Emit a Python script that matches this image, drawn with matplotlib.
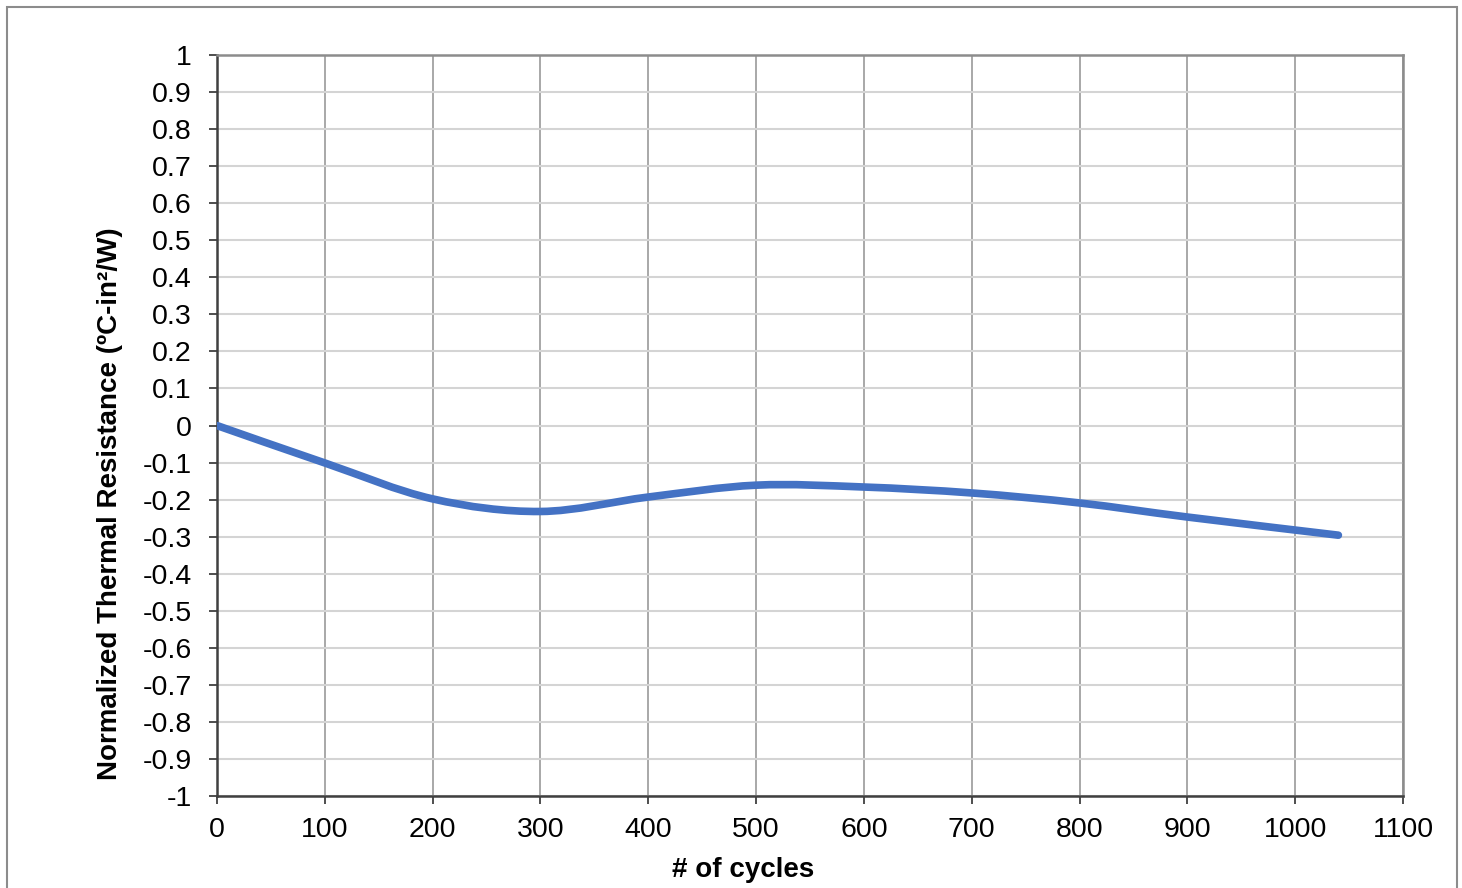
import numpy as np
import matplotlib.pyplot as plt
from matplotlib.path import Path
from matplotlib.patches import PathPatch, Rectangle

plt.rcParams['font.family'] = ['Liberation Sans', 'DejaVu Sans']

# datos
ciclos = [0, 100, 200, 300, 400, 500, 600, 700, 800, 900, 1040]
resistencia = [0.0, -0.101, -0.198, -0.232, -0.193, -0.161, -0.166, -0.182, -0.209, -0.247, -0.296]

yticks = np.round(np.arange(-1, 1.01, 0.1), 1) + 0.0
xticks = np.arange(0, 1101, 100)

def suavizado(x, y):
    # curva bezier tipo Excel (suavizado de linea)
    x = np.asarray(x, float)
    y = np.asarray(y, float)
    verts = [(x[0], y[0])]
    codes = [Path.MOVETO]
    n = len(x)
    for i in range(n - 1):
        i0 = max(i - 1, 0)
        i3 = min(i + 2, n - 1)
        c1 = (x[i] + (x[i + 1] - x[i0]) / 6, y[i] + (y[i + 1] - y[i0]) / 6)
        c2 = (x[i + 1] - (x[i3] - x[i]) / 6, y[i + 1] - (y[i3] - y[i]) / 6)
        verts += [c1, c2, (x[i + 1], y[i + 1])]
        codes += [Path.CURVE4] * 3
    return Path(verts, codes)

fig = plt.figure(figsize=(14.62, 8.88), dpi=100)
ax = fig.add_axes([0.1484, 0.1036, 0.8113, 0.8344])

ax.add_patch(PathPatch(suavizado(ciclos, resistencia), facecolor='none',
                       edgecolor='#4472C4', lw=5.5, capstyle='round', zorder=3))

ax.set_xlim(0, 1100)
ax.set_ylim(-1, 1)
ax.set_xticks(xticks)
ax.set_yticks(yticks)
ax.set_yticklabels(['%g' % (v if abs(v) > 1e-9 else 0) for v in yticks])

ax.xaxis.grid(True, color='#9a9a9a', lw=1.2)
ax.yaxis.grid(True, color='#d4d4d4', lw=1.5)
ax.set_axisbelow(True)

for s in ['left', 'bottom']:
    ax.spines[s].set_color('#404040')
    ax.spines[s].set_linewidth(1.8)
for s in ['top', 'right']:
    ax.spines[s].set_color('#8c8c8c')
    ax.spines[s].set_linewidth(1.8)

ax.tick_params(axis='both', direction='out', length=6, width=1.3, color='#404040',
               labelsize=20.5, labelcolor='black')
ax.tick_params(axis='x', pad=9)
ax.tick_params(axis='y', pad=12)

ax.set_xlabel('# of cycles', fontsize=20, fontweight='bold', va='center')
ax.set_ylabel('Normalized Thermal Resistance (ºC-in²/W)', fontsize=20,
              fontweight='bold', va='center')
ax.xaxis.set_label_coords(0.4435, -0.1)
ax.yaxis.set_label_coords(-0.09, 0.394)

fig.patches.append(Rectangle((7 / 1462, -0.05), 1450 / 1462, 1.05 - 7 / 888,
                             transform=fig.transFigure, fill=False,
                             edgecolor='#8c8c8c', lw=1.5))

fig.savefig('out.png', dpi=100)
